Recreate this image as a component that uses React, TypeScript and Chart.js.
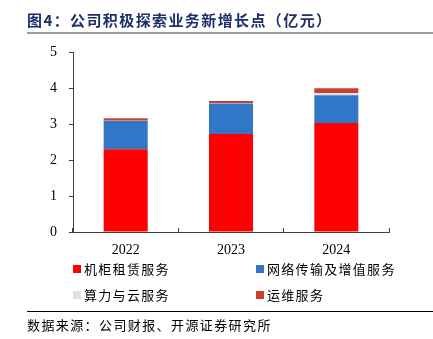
import React, { useEffect, useRef } from "react";
import { Chart, registerables } from "chart.js";

Chart.register(...registerables);

const title = "图4：公司积极探索业务新增长点（亿元）";
const source = "数据来源：公司财报、开源证券研究所";
const years = ["2022", "2023", "2024"];
const seriesNames = ["机柜租赁服务", "网络传输及增值服务", "算力与云服务", "运维服务"];
const rackRental = [2.3, 2.72, 3.03];
const networkValueAdded = [0.78, 0.85, 0.77];
const computeCloud = [0.01, 0.01, 0.06];
const operations = [0.07, 0.06, 0.13];
const seriesColors = ["#FF0000", "#3176C7", "#E0E0E0", "#CB3F2F"];
const yTicks = [0, 1, 2, 3, 4, 5];

const cjk = '"Noto Sans CJK SC", "Noto Sans", sans-serif';
const serif = '"Liberation Serif", "DejaVu Serif", serif';

export default function App() {
  const ref = useRef<HTMLCanvasElement | null>(null);

  useEffect(() => {
    if (!ref.current) return;
    const values = [rackRental, networkValueAdded, computeCloud, operations];
    const chart = new Chart(ref.current, {
      type: "bar",
      data: {
        labels: years,
        datasets: seriesNames.map((name, i) => ({
          label: name,
          data: values[i],
          backgroundColor: seriesColors[i],
          borderWidth: 0,
          categoryPercentage: 1,
          barPercentage: 0.418,
        })),
      },
      options: {
        responsive: false,
        animation: false,
        layout: { padding: { left: 0, right: 44, top: 52, bottom: 77 } },
        plugins: { legend: { display: false }, tooltip: { enabled: false }, title: { display: false } },
        scales: {
          x: {
            stacked: true,
            afterFit: (s: any) => { s.height = 30; },
            grid: {
              offset: true,
              drawOnChartArea: false,
              tickLength: -4,
              color: "#404040",
            },
            border: { color: "#404040", width: 1 },
            ticks: {
              color: "#000",
              padding: 14,
              font: { family: serif, size: 14 },
            },
          },
          y: {
            stacked: true,
            min: yTicks[0],
            max: yTicks[yTicks.length - 1],
            afterFit: (s: any) => { s.width = 73; },
            afterBuildTicks: (s: any) => { s.ticks = yTicks.map((v) => ({ value: v })); },
            grid: { drawOnChartArea: false, tickLength: 4, color: "#404040" },
            border: { color: "#404040", width: 1 },
            ticks: {
              color: "#000",
              padding: 12,
              font: { family: serif, size: 14 },
            },
          },
        },
      },
    });
    return () => chart.destroy();
  }, []);

  const legendPos = [
    { x: 73, y: 269 },
    { x: 256, y: 269 },
    { x: 73, y: 295 },
    { x: 256, y: 295 },
  ];

  return (
    <div style={{ position: "fixed", left: 0, top: 0, width: 433, height: 339, background: "#fff", overflow: "hidden" }}>
      <canvas ref={ref} width={433} height={339} style={{ position: "absolute", left: 0, top: 0, width: 433, height: 339 }} />
      <div style={{ position: "absolute", left: 27, top: 10, lineHeight: "20px", fontFamily: cjk, fontWeight: 700, fontSize: 15, letterSpacing: 1.4, color: "#1C2F6B", whiteSpace: "nowrap" }}>{title}</div>
      <div style={{ position: "absolute", left: 27, top: 32, width: 406, height: 2, background: "#9A9A9A" }} />
      {seriesNames.map((name, i) => (
        <div key={name} style={{ position: "absolute", left: legendPos[i].x, top: legendPos[i].y - 10, height: 20, display: "flex", alignItems: "center", whiteSpace: "nowrap" }}>
          <span style={{ display: "inline-block", width: 8, height: 8, background: seriesColors[i], marginRight: 3 }} />
          <span style={{ fontFamily: cjk, fontSize: 13, letterSpacing: 1.3, color: "#000", lineHeight: "20px" }}>{name}</span>
        </div>
      ))}
      <div style={{ position: "absolute", left: 27, top: 311, width: 406, height: 1, background: "#000" }} />
      <div style={{ position: "absolute", left: 27, top: 316, lineHeight: "18px", fontFamily: cjk, fontSize: 13, letterSpacing: 1.4, color: "#000", whiteSpace: "nowrap" }}>{source}</div>
    </div>
  );
}
